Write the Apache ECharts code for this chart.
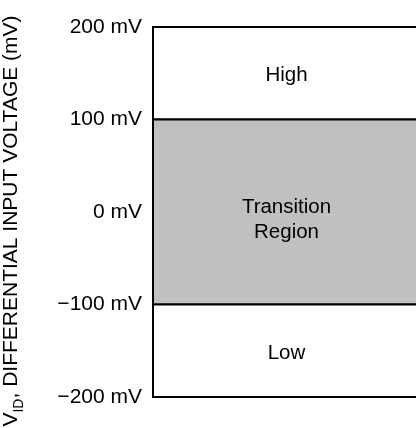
<!DOCTYPE html>
<html><head><meta charset="utf-8">
<script src="https://cdn.jsdelivr.net/npm/echarts@6/dist/echarts.min.js"></script>
<style>html,body{margin:0;padding:0;background:#fff}#c{width:416px;height:428px}</style>
</head><body><div id="c"></div>
<script>
const regionNames = ['High', 'Transition\nRegion', 'Low'];
const regionFrom = [100, -100, -200];
const regionTo = [200, 100, -100];
const regionFill = ['#ffffff', '#c0c0c0', '#ffffff'];
const yTicks = [-200, -100, 0, 100, 200];
const yMin = -200, yMax = 200, yStep = 100;

const FONT = 'Liberation Sans, Arial, sans-serif';
const labelShift = [2, 8, 3];
const chart = echarts.init(document.getElementById('c'), null, {renderer: 'canvas'});
chart.setOption({
  animation: false,
  grid: {left: 153, right: -4, top: 27, bottom: 31, containLabel: false, outerBoundsMode: 'none'},
  xAxis: {type: 'value', min: 0, max: 1, show: false},
  yAxis: {
    type: 'value', min: yMin, max: yMax, interval: yStep,
    axisLine: {show: true, lineStyle: {color: '#000', width: 2}},
    axisTick: {show: false},
    splitLine: {show: false},
    axisLabel: {
      margin: 11, color: '#000', fontFamily: FONT, fontSize: 21,
      formatter: v => yTicks.includes(v) ? (v < 0 ? '\u2212' + Math.abs(v) : v) + ' mV' : ''
    },
    name: '{n|V}{s|ID}{n|, DIFFERENTIAL INPUT VOLTAGE (mV)}',
    nameLocation: 'middle', nameRotate: 90, nameGap: 131,
    nameTextStyle: {
      fontFamily: FONT, fontSize: 21, color: '#000', padding: [0, 18, 0, 0],
      rich: {
        n: {fontFamily: FONT, fontSize: 21, color: '#000', lineHeight: 26, verticalAlign: 'bottom'},
        s: {fontFamily: FONT, fontSize: 14, color: '#000', lineHeight: 26, verticalAlign: 'bottom', padding: [0, 0, -4, 0]}
      }
    }
  },
  series: [{
    type: 'line', data: [], silent: true,
    markArea: {
      silent: true,
      data: regionNames.map((n, i) => [
        {name: n, xAxis: 0, yAxis: regionFrom[i],
         itemStyle: {color: regionFill[i], borderColor: '#000', borderWidth: 2, opacity: 1},
         label: {show: true, position: 'inside', offset: [0, labelShift[i]], color: '#000', fontFamily: FONT, fontSize: 20.5, lineHeight: 25}},
        {xAxis: 1, yAxis: regionTo[i]}
      ])
    }
  }]
});
</script></body></html>
